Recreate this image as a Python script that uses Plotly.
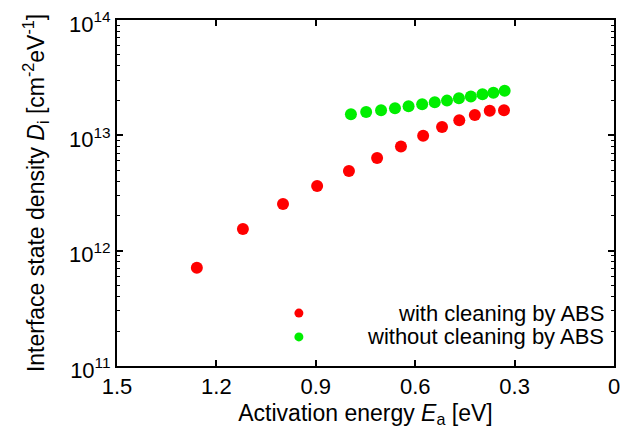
import plotly.graph_objects as go

# Data
ea_with = [1.259, 1.120, 0.999, 0.896, 0.800, 0.715, 0.643, 0.576, 0.519, 0.467, 0.420, 0.375, 0.332]
di_with = [7.1e11, 1.54e12, 2.54e12, 3.64e12, 4.91e12, 6.37e12, 8.0e12, 9.9e12, 1.18e13, 1.35e13, 1.50e13, 1.63e13, 1.65e13]

ea_without = [0.794, 0.748, 0.703, 0.661, 0.620, 0.579, 0.541, 0.504, 0.468, 0.432, 0.397, 0.364, 0.330]
di_without = [1.52e13, 1.59e13, 1.65e13, 1.72e13, 1.79e13, 1.86e13, 1.94e13, 2.00e13, 2.10e13, 2.17e13, 2.27e13, 2.34e13, 2.43e13]

x_ticks = [1.5, 1.2, 0.9, 0.6, 0.3, 0]
x_labels = ["1.5", "1.2", "0.9", "0.6", "0.3", "0"]
y_ticks = [1e11, 1e12, 1e13, 1e14]
y_labels = ["10<sup>11</sup>", "10<sup>12</sup>", "10<sup>13</sup>", "10<sup>14</sup>"]
y_minor = [m * 10 ** e for e in (11, 12, 13) for m in range(2, 10)]

legend_names = ["with cleaning by ABS", "without cleaning by ABS"]
red = "#ff0000"
green = "#00ee00"

FONT = "Liberation Sans, Arial, sans-serif"
Y_RANGE = [10.99999, 14.00001]

fig = go.Figure()
fig.add_trace(go.Scatter(x=ea_with, y=di_with, mode="markers", name=legend_names[0],
                         marker=dict(color=red, size=12, line=dict(width=0))))
fig.add_trace(go.Scatter(x=ea_without, y=di_without, mode="markers", name=legend_names[1],
                         marker=dict(color=green, size=12, line=dict(width=0))))
# transparent copy on the overlay axis so that the minor-tick axis gets drawn
fig.add_trace(go.Scatter(x=ea_without, y=di_without, yaxis="y2", mode="markers",
                         marker=dict(opacity=0, size=1), showlegend=False, hoverinfo="skip"))

# Legend drawn as right-aligned annotations with circle keys (gnuplot style)
leg_y = [0.153, 0.084]
cx = 0.366
rx = 4.5 / 497
ry = 4.5 / 346
for name, col, yy in zip(legend_names, [red, green], leg_y):
    fig.add_annotation(x=0.983, y=yy, xref="paper", yref="paper", text=name,
                       showarrow=False, xanchor="right", yanchor="middle",
                       font=dict(size=22, color="black", family=FONT))
    fig.add_shape(type="circle", xref="paper", yref="paper",
                  x0=cx - rx, x1=cx + rx, y0=yy - ry, y1=yy + ry,
                  fillcolor=col, line=dict(width=0))

axis_common = dict(showline=True, linecolor="black", linewidth=2, mirror="ticks",
                   ticks="inside", tickcolor="black", tickwidth=1.5, ticklen=6,
                   showgrid=False, zeroline=False, ticklabeloverflow="allow",
                   automargin=False,
                   tickfont=dict(size=22, color="black", family=FONT))

fig.update_layout(
    xaxis=dict(range=[1.5, 0], tickvals=x_ticks, ticktext=x_labels,
               title=dict(text="Activation energy <i>E</i><sub>a</sub> [eV]",
                          font=dict(size=23, color="black", family=FONT), standoff=6),
               **axis_common),
    yaxis=dict(type="log", range=Y_RANGE, tickvals=y_ticks, ticktext=y_labels,
               ticklabelshift=4,
               title=dict(text="Interface state density <i>D</i><sub>i</sub> [cm<sup>-2</sup>eV<sup>-1</sup>]",
                          font=dict(size=23, color="black", family=FONT), standoff=18),
               **axis_common),
    yaxis2=dict(type="log", range=Y_RANGE, overlaying="y", side="left",
                tickvals=y_minor, showticklabels=False, ticks="inside", ticklen=3,
                tickwidth=1.2, tickcolor="black", mirror="ticks", showline=True,
                linecolor="black", linewidth=2, showgrid=False, zeroline=False,
                automargin=False),
    width=619, height=430, showlegend=False,
    margin=dict(l=109, r=13, t=12, b=72, autoexpand=False),
    plot_bgcolor="white", paper_bgcolor="white",
    font=dict(family=FONT, color="black"),
)

fig.write_html("out.html")
